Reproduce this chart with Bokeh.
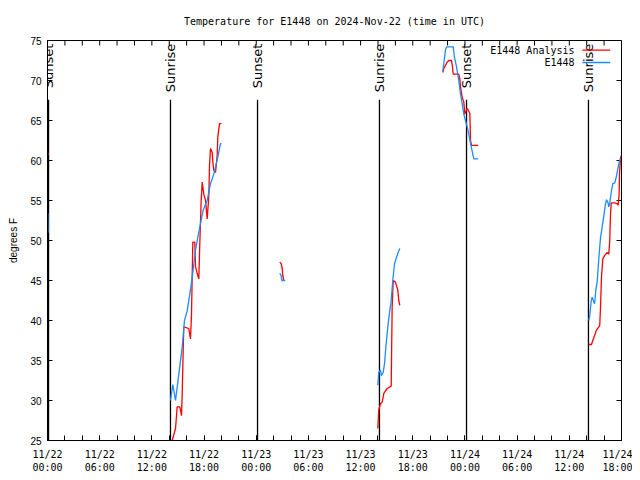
import math
from bokeh.plotting import figure
from bokeh.models import Range1d, FixedTicker, Label, Arrow, ColumnDataSource
from bokeh.core.properties import value
from bokeh.embed import file_html
from bokeh.resources import INLINE

NAN = float("nan")

# time axis: hours since 2024-11-22 00:00 UTC
analysis_hours = [
    [0.02, 0.06],
    [14.34, 14.72, 14.91, 15.21, 15.41, 15.49, 15.60, 15.67, 16.25, 16.44, 16.56, 16.64,
     16.71, 16.94, 17.02, 17.28, 17.40, 17.51, 17.67, 17.79, 17.97, 18.17, 18.36, 18.55,
     18.63, 18.74, 18.94, 19.01, 19.12, 19.32, 19.51, 19.58, 19.78, 20.01],
    [26.71, 26.87, 26.99, 27.06, 27.17],
    [37.98, 38.09, 38.29, 38.48, 38.67, 39.06, 39.52, 39.63, 39.75, 40.01, 40.28, 40.39, 40.51],
    [45.45, 45.57, 45.96, 46.14, 46.45, 46.57, 46.65, 47.29, 47.41, 47.49, 47.68, 47.87, 47.98,
     48.26, 48.56, 48.64, 48.75, 49.52],
    [62.24, 62.55, 62.70, 62.90, 63.12, 63.39, 63.50, 63.58, 63.70, 63.85, 64.05, 64.36,
     64.54, 64.65, 64.73, 64.82, 65.20, 65.50, 65.62, 65.73, 65.77, 65.88, 65.96],
]
analysis_temp = [
    [61.0, 60.7],
    [25.0, 26.5, 29.2, 29.2, 28.1, 30.9, 36.2, 39.2, 39.0, 37.7, 40.8, 45.8,
     49.8, 49.8, 46.7, 45.6, 45.2, 49.6, 55.0, 57.3, 55.8, 55.0, 52.7, 55.6,
     59.4, 61.5, 61.0, 59.8, 58.8, 58.5, 60.6, 62.9, 64.6, 64.6],
    [47.3, 47.1, 46.5, 45.6, 45.0],
    [26.5, 28.8, 29.6, 29.8, 30.9, 31.5, 31.8, 41.7, 45.0, 44.8, 43.8, 42.5, 41.9],
    [71.0, 71.5, 72.3, 72.5, 72.5, 71.7, 70.8, 70.8, 70.2, 69.2, 67.9, 67.3, 65.8,
     66.5, 65.9, 62.5, 61.9, 61.9],
    [37.0, 37.0, 37.5, 38.1, 38.8, 39.2, 39.4, 41.5, 45.4, 47.7, 48.1, 48.5,
     48.3, 50.0, 53.1, 54.7, 54.7, 54.6, 54.4, 55.8, 58.3, 60.2, 60.6],
]

obs_hours = [
    [0.03, 0.05],
    [14.14, 14.41, 14.72, 15.10, 15.49, 15.75, 16.06, 16.36, 16.64, 17.02, 17.28, 17.59,
     17.90, 18.36, 18.74, 19.12, 19.58, 19.89, 20.01],
    [26.71, 26.87, 26.94, 27.33],
    [37.98, 38.09, 38.29, 38.40, 38.60, 38.75, 38.94, 39.13, 39.32, 39.52, 39.70, 39.90,
     40.13, 40.32, 40.51],
    [45.45, 45.57, 45.76, 45.88, 46.65, 46.80, 47.03, 47.29, 47.49, 47.68, 47.87, 48.06,
     48.26, 48.44, 48.72, 49.02, 49.52],
    [62.24, 62.35, 62.52, 62.63, 62.75, 62.90, 63.05, 63.21, 63.39, 63.59, 63.78, 63.97,
     64.16, 64.28, 64.42, 64.54, 64.66, 64.82, 65.00, 65.23, 65.39, 65.57, 65.73, 65.88],
]
obs_temp = [
    [53.4, 51.0],
    [30.0, 32.0, 30.0, 33.3, 36.7, 40.0, 41.2, 43.3, 45.4, 48.8, 50.4, 52.1,
     53.8, 55.0, 57.1, 58.3, 60.4, 62.1, 62.1],
    [45.9, 45.6, 45.0, 45.0],
    [31.9, 33.5, 33.8, 33.1, 33.5, 34.6, 37.1, 39.2, 40.9, 42.5, 45.0, 47.1,
     47.9, 48.5, 49.0],
    [71.2, 72.1, 73.8, 74.2, 74.2, 72.9, 71.7, 70.0, 68.3, 67.1, 65.8, 65.0,
     64.2, 63.3, 61.7, 60.2, 60.2],
    [40.0, 40.6, 42.5, 42.9, 42.5, 42.1, 43.8, 44.9, 47.7, 50.4, 51.7, 53.1,
     54.6, 55.1, 54.8, 54.2, 54.8, 56.0, 57.1, 57.2, 57.9, 58.9, 59.8, 60.2],
]

sun_hours = [0.12, 14.14, 24.15, 38.17, 48.18, 62.20]
sun_labels = ["Sunset", "Sunrise", "Sunset", "Sunrise", "Sunset", "Sunrise"]

x_tick_hours = [0, 6, 12, 18, 24, 30, 36, 42, 48, 54, 60, 66]
x_tick_labels = ["11/22\n00:00", "11/22\n06:00", "11/22\n12:00", "11/22\n18:00",
                 "11/23\n00:00", "11/23\n06:00", "11/23\n12:00", "11/23\n18:00",
                 "11/24\n00:00", "11/24\n06:00", "11/24\n12:00", "11/24\n18:00"]
x_minor_hours = list(range(0, 67, 2))
y_ticks = [25, 30, 35, 40, 45, 50, 55, 60, 65, 70, 75]

title_text = "Temperature for E1448 on 2024-Nov-22 (time in UTC)"
series_names = ["E1448 Analysis", "E1448"]
series_colors = ["#ff0000", "#1a8cff"]

X0, X1, Y0, Y1 = 0, 66, 25, 75
W, H = 632, 475
BL, BR, BT, BB = 47, 11, 40, 35
TICK = 5  # px


def join(segs):
    out = []
    for i, s in enumerate(segs):
        if i:
            out.append(NAN)
        out.extend(s)
    return out


p = figure(width=W, height=H, output_backend="svg", toolbar_location=None,
           x_range=Range1d(X0, X1), y_range=Range1d(Y0, Y1),
           min_border_left=BL, min_border_right=BR, min_border_top=BT, min_border_bottom=BB,
           title=title_text)
p.title.align = "center"
p.title.text_font = "DejaVu Sans Mono"
p.title.text_font_size = "10px"
p.title.text_font_style = "normal"
p.title.text_color = "black"
p.title.standoff = 27
p.grid.visible = False
p.outline_line_color = "black"
p.background_fill_color = "white"
p.border_fill_color = "white"

px_per_y = (H - BT - BB) / (Y1 - Y0)

xt = FixedTicker(ticks=x_tick_hours, minor_ticks=x_minor_hours)
yt = FixedTicker(ticks=y_ticks, minor_ticks=[])

xa = p.xaxis[0]
xa.ticker = xt
xa.major_label_overrides = {h: l for h, l in zip(x_tick_hours, x_tick_labels)}
xa.major_label_text_font = "DejaVu Sans Mono"
xa.major_label_text_font_size = "10px"
xa.major_label_standoff = 8

ya = p.yaxis[0]
ya.ticker = yt
ya.axis_label = "degrees F"
ya.axis_label_text_font = "Liberation Sans"
ya.axis_label_text_font_size = "10px"
ya.axis_label_text_font_style = "normal"
ya.axis_label_text_color = "black"
ya.axis_label_standoff = 8
ya.major_label_text_font = "Liberation Sans"
ya.major_label_text_font_size = "10px"
ya.major_label_standoff = 6

for ax in [xa, ya]:
    ax.major_tick_in = TICK
    ax.major_tick_out = 0
    ax.minor_tick_in = TICK
    ax.minor_tick_out = 0
    ax.axis_line_color = "black"
    ax.major_tick_line_color = "black"
    ax.minor_tick_line_color = "black"
    ax.major_label_text_color = "black"

# mirrored ticks on the top and right frame edges
dx = TICK * (X1 - X0) / (W - BL - BR)
dy = TICK / px_per_y
p.segment(x0=x_minor_hours, y0=[Y1] * len(x_minor_hours), x1=x_minor_hours,
          y1=[Y1 - dy] * len(x_minor_hours), line_color="black", line_width=1)
p.segment(x0=[X1] * len(y_ticks), y0=y_ticks, x1=[X1 - dx] * len(y_ticks), y1=y_ticks,
          line_color="black", line_width=1)

# sunrise / sunset markers
sun_src = ColumnDataSource(dict(x=sun_hours, y0=[Y0] * len(sun_hours),
                                y1=[67.6] * len(sun_hours), yt=[74.6] * len(sun_hours),
                                label=sun_labels))
p.segment(x0="x", y0="y0", x1="x", y1="y1", source=sun_src, line_color="black", line_width=1.3)
p.text(x="x", y="yt", text="label", source=sun_src, angle=math.pi / 2,
       text_align="right", text_baseline="middle", text_font=value("DejaVu Sans"),
       text_font_size="13px", text_color="black")

p.line(join(analysis_hours), join(analysis_temp), line_color=series_colors[0], line_width=1.3)
p.line(join(obs_hours), join(obs_temp), line_color=series_colors[1], line_width=1.3)

# gnuplot-style key: text then sample line
key_rows = [73.8, 72.25]
for name, color, yk in zip(series_names, series_colors, key_rows):
    p.add_layout(Label(x=60.6, y=yk, text=name, text_align="right", text_baseline="middle",
                       text_font="DejaVu Sans Mono", text_font_size="10px", text_color="black"))
    p.add_layout(Arrow(end=None, x_start=61.5, y_start=yk, x_end=64.7, y_end=yk,
                       line_color=color, line_width=1.3))

open("out.html", "w").write(file_html(p, INLINE))
